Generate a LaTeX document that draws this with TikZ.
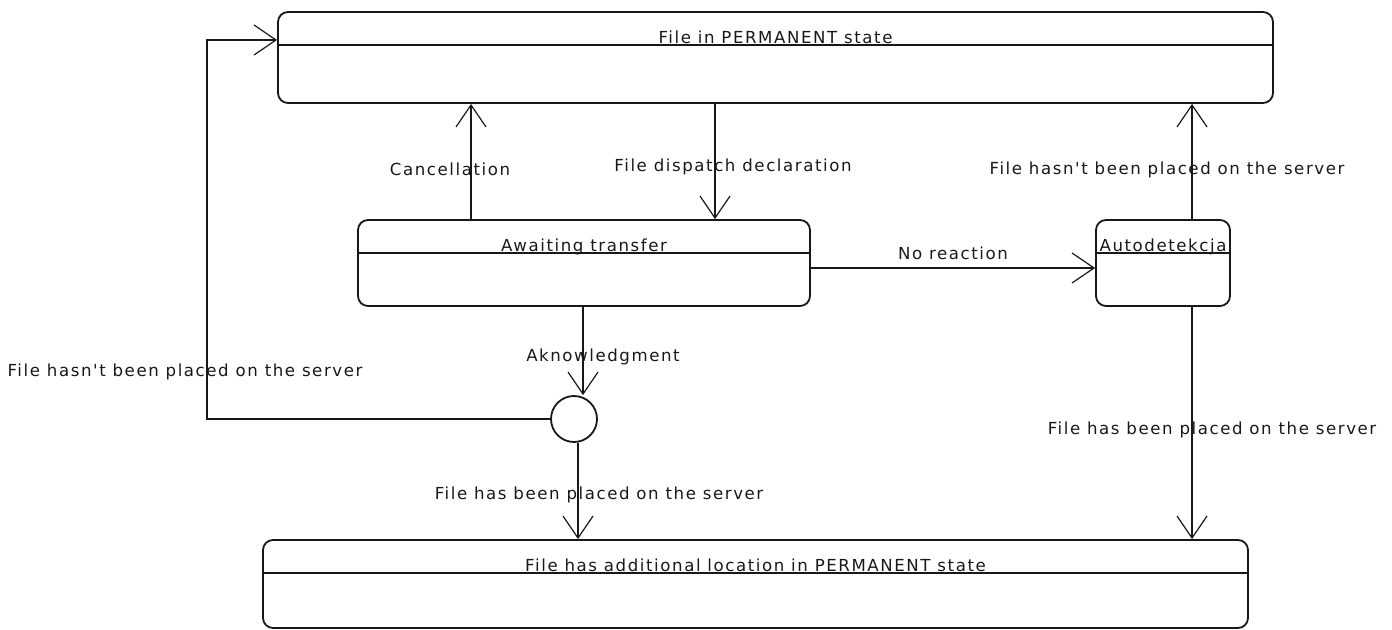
\documentclass[tikz,border=0pt]{standalone}
\usepackage{fontspec}
\newfontfamily\umlfont[LetterSpace=9.5]{DejaVu Sans}
\definecolor{umlink}{RGB}{24,24,24}
\usetikzlibrary{arrows.meta,positioning,calc}

\begin{document}
\begin{tikzpicture}[
  x=0.5pt,y=-0.5pt,
  every node/.style={font=\umlfont\fontsize{8.3}{9}\selectfont,text=umlink},
  statebox/.style={draw=umlink,line width=0.9pt,rounded corners=5pt,inner sep=0pt},
  statetitle/.style={anchor=base,inner sep=0pt},
  junction/.style={draw=umlink,line width=0.9pt,circle,minimum size=23pt,inner sep=0pt},
  trans/.style={draw=umlink,line width=0.9pt,-{Straight Barb[length=11pt,width=15pt,line width=0.6pt]}},
  lbl/.style={inner sep=0pt},
]
  \useasboundingbox (0,0) rectangle (1392,630);

  % States
  \node[statebox,minimum width=497.5pt,minimum height=45.5pt] (perm) at (775.5,57.5) {};
  \node[statebox,minimum width=226pt,minimum height=43pt] (await) at (584,263) {};
  \node[statebox,minimum width=67pt,minimum height=43pt] (auto) at (1163,263) {};
  \node[statebox,minimum width=492.5pt,minimum height=44pt] (addl) at (755.5,584) {};
  \node[junction] (junc) at (574,419) {};

  % Dividers
  \foreach \s in {perm,await,auto,addl}
    \draw[umlink,line width=0.9pt] ([yshift=-17pt]\s.north west) -- ([yshift=-17pt]\s.north east);

  % Titles
  \node[statetitle] (permtitle) at ([yshift=-16pt]perm.north) {File in PERMANENT state};
  \node[statetitle] (awaittitle) at ([yshift=-16pt]await.north) {Awaiting transfer};
  \node[statetitle] (autotitle) at ([yshift=-16pt]auto.north) {Autodetekcja};
  \node[statetitle] (addltitle) at ([yshift=-16pt]addl.north) {File has additional location in PERMANENT state};

  % Labels
  \node[lbl] (cancel) at (450,169) {Cancellation};
  \node[lbl] (dispatch) at (733,167) {File dispatch declaration};
  \node[lbl] (noreact) at (953,253) {No reaction};
  \node[lbl] (autofail) at (1167,170) {File hasn't been placed on the server};
  \node[lbl] (autook) at (1212,430) {File has been placed on the server};
  \node[lbl] (ack) at (603,357) {Aknowledgment};
  \node[lbl] (loopfail) at (185,372) {File hasn't been placed on the server};
  \node[lbl] (placed) at (599,495) {File has been placed on the server};

  % Guide coordinates
  \coordinate (cancelx) at (471,0);
  \coordinate (dispx) at (715,0);
  \coordinate (autox) at (1192,0);
  \coordinate (ackx) at (583,0);
  \coordinate (placex) at (578,0);
  \coordinate (reacty) at (0,268);
  \coordinate (loopcorner) at (207,40);

  % Transitions
  \draw[trans] (await.north -| cancelx) -- (perm.south -| cancelx);
  \draw[trans] (perm.south -| dispx) -- (await.north -| dispx);
  \draw[trans] (await.east |- reacty) -- (auto.west |- reacty);
  \draw[trans] (auto.north -| autox) -- (perm.south -| autox);
  \draw[trans] (auto.south -| autox) -- (addl.north -| autox);
  \draw[trans] (await.south -| ackx) -- (junc.north -| ackx);
  \draw[trans] (junc.south -| placex) -- (addl.north -| placex);
  \draw[trans] (junc.west) -| (loopcorner) -- (perm.west |- loopcorner);
\end{tikzpicture}
\end{document}
